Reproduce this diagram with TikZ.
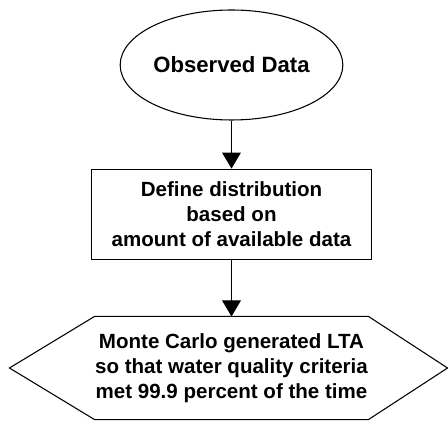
\documentclass[tikz,border=0pt]{standalone}
\usepackage{fontspec}
\setmainfont{Liberation Sans}
\usetikzlibrary{shapes.geometric,arrows.meta}

\begin{document}
\begin{tikzpicture}[
  x=0.75pt, y=0.75pt,
  line width=0.8pt,
  txt/.style={font=\bfseries\fontsize{15.4}{18.7}\selectfont, align=center, inner sep=0pt},
  flow/.style={-{Triangle[width=14pt,length=12pt]}}
]

\useasboundingbox (0,0) rectangle (448,420);

\node [draw, ellipse, txt, font=\bfseries\fontsize{16.6}{20}\selectfont,
  minimum width=167pt, minimum height=82.5pt] (obs) at (231.5,355) {Observed Data};

\node [draw, rectangle, txt, minimum width=210pt, minimum height=68pt]
  (dist) at (231.5,205.5) {Define distribution\\based on\\amount of available data};

\node [txt, minimum width=204.75pt, minimum height=76.5pt]
  (lta) at (231.5,52) {Monte Carlo generated LTA\\so that water quality criteria\\met 99.9 percent of the time};

\draw (lta.north west) -- (lta.north east) -- ([xshift=59.25pt]lta.east)
  -- (lta.south east) -- (lta.south west) -- ([xshift=-63.75pt]lta.west) -- cycle;

\draw [flow] (obs.south) -- (dist.north);
\draw [flow] (dist.south) -- (lta.north);

\end{tikzpicture}
\end{document}
